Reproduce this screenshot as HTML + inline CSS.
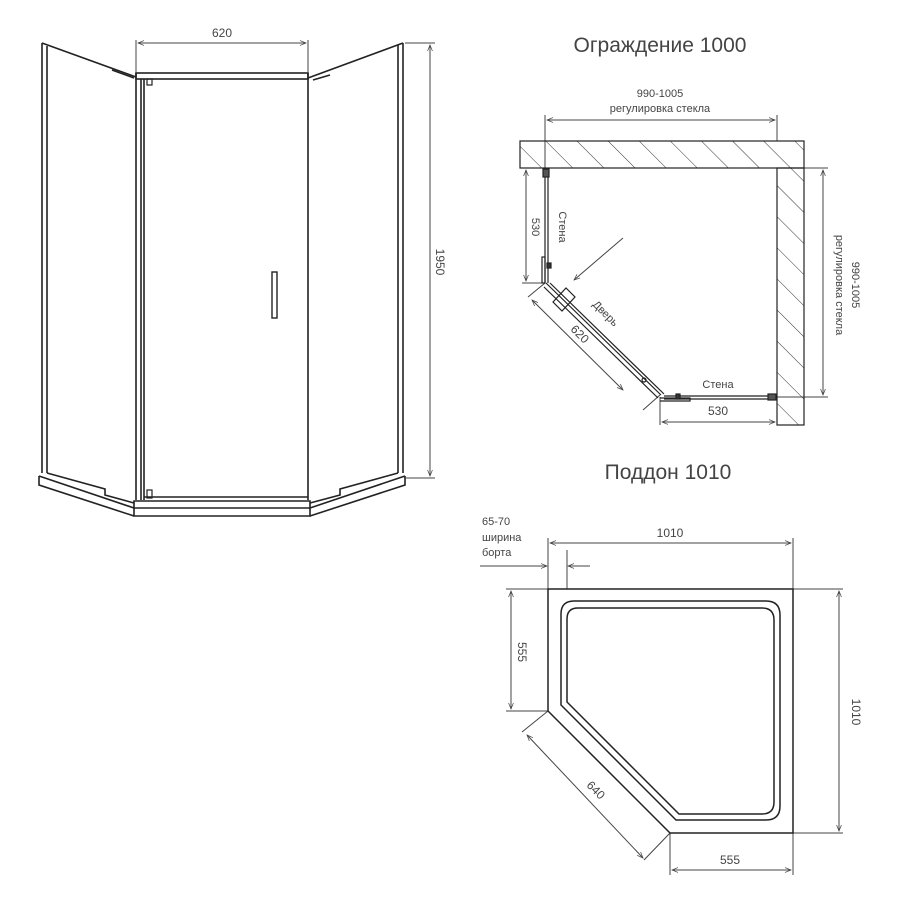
<!DOCTYPE html>
<html><head><meta charset="utf-8"><style>
html,body{margin:0;padding:0;background:#fff}
svg{display:block}
text{font-family:"Liberation Sans",sans-serif;fill:#444}
</style></head><body>
<svg width="900" height="900" viewBox="0 0 900 900" xmlns="http://www.w3.org/2000/svg">
<defs>
<marker id="a" viewBox="0 0 10 10" refX="10" refY="5" markerWidth="8" markerHeight="6" orient="auto-start-reverse"><path d="M0,1 L10,5 L0,9" fill="none" stroke="#444" stroke-width="1.2"/></marker>
<pattern id="h" patternUnits="userSpaceOnUse" width="22" height="22" patternTransform="rotate(-45)"><line x1="0" y1="0" x2="0" y2="22" stroke="#333" stroke-width="1"/></pattern>
</defs>
<g fill="none" stroke="#222" stroke-width="1.6">
<path d="M42,43 L42,473 M47,46 L47,473 M42,43 L136,77"/>
<path d="M112,70 L134,78"/>
<rect x="136" y="73" width="172" height="6"/>
<path d="M136,73 L136,500 M141,79 L141,500 M144,79 L144,500 M308,73 L308,500"/>
<rect x="147" y="79" width="5" height="6" stroke-width="1.2"/>
<rect x="147" y="490" width="5" height="8" stroke-width="1.2"/>
<path d="M144,497 L308,497"/>
<rect x="272" y="272" width="5" height="46" stroke-width="1.4"/>
<path d="M398,45 L398,473 M403,43 L403,473 M308,78 L403,43"/>
<path d="M313,80 L330,75"/>
<path d="M134,501 L310,501 L310,516 L134,516 Z"/>
<path d="M134,508 L310,508"/>
<path d="M39,476 L39,485 L134,516 M39,476 L134,508 M47,473 L105,489 L105,495 L134,503"/>
<path d="M405,476 L405,485 L310,516 M405,476 L310,508 M398,473 L340,489 L340,495 L310,503"/>
</g>
<g stroke="#444" stroke-width="1" fill="none">
<path d="M136,40 L136,73 M308,40 L308,73"/>
<line x1="138" y1="43" x2="306" y2="43" marker-start="url(#a)" marker-end="url(#a)"/>
<path d="M405,43 L435,43 M405,478 L435,478"/>
<line x1="430" y1="45" x2="430" y2="476" marker-start="url(#a)" marker-end="url(#a)"/>
</g>
<text x="222" y="37" font-size="12" text-anchor="middle">620</text>
<text transform="translate(436,262) rotate(90)" font-size="12" text-anchor="middle">1950</text>

<text x="660" y="52" font-size="21" text-anchor="middle">Ограждение 1000</text>
<text x="660" y="97" font-size="11" text-anchor="middle">990-1005</text>
<text x="660" y="112" font-size="11" text-anchor="middle">регулировка стекла</text>
<g stroke="#444" stroke-width="1" fill="none">
<path d="M545,115 L545,168 M777,115 L777,141"/>
<line x1="547" y1="120" x2="775" y2="120" marker-start="url(#a)" marker-end="url(#a)"/>
<path d="M804,168 L828,168 M777,397 L828,397"/>
<line x1="823" y1="170" x2="823" y2="395" marker-start="url(#a)" marker-end="url(#a)"/>
<path d="M522,168 L545,168 M522,283 L545,283"/>
<line x1="526" y1="170" x2="526" y2="281" marker-start="url(#a)" marker-end="url(#a)"/>
<path d="M660,397 L660,425 M777,397 L777,425"/>
<line x1="662" y1="422" x2="775" y2="422" marker-start="url(#a)" marker-end="url(#a)"/>
<path d="M545,283 L528,297 M660,395 L643,410"/>
<line x1="532" y1="300" x2="623" y2="390" marker-start="url(#a)" marker-end="url(#a)"/>
<line x1="623" y1="238" x2="574" y2="280" marker-end="url(#a)"/>
</g>
<rect x="520" y="141" width="284" height="27" fill="url(#h)" stroke="#222" stroke-width="1.2"/>
<rect x="777" y="168" width="27" height="257" fill="url(#h)" stroke="#222" stroke-width="1.2"/>
<g fill="none" stroke="#222" stroke-width="1.2">
<path d="M545,169 L545,283 M548,169 L548,283"/>
<rect x="543" y="169" width="6" height="8" fill="#555"/>
<rect x="542" y="257" width="3" height="26"/>
<rect x="547" y="263" width="4" height="5" fill="#333"/>
<path d="M546,283 L661,395 M550,283 L664,394 M544,287 L658,398"/>
<path d="M553,302 L566,288 L575,297 L562,311 Z"/>
<path d="M660,398 L690,398 L690,401 L660,401"/>
<path d="M664,396 L777,396 M664,399 L777,399"/>
<rect x="676" y="394" width="4" height="5" fill="#333"/>
<rect x="768" y="394" width="8" height="6" fill="#555"/>
<circle cx="644" cy="380" r="2"/>
</g>
<text transform="translate(532,227) rotate(90)" font-size="11" text-anchor="middle">530</text>
<text transform="translate(559,227) rotate(90)" font-size="11" text-anchor="middle">Стена</text>
<text transform="translate(577,337) rotate(45)" font-size="12" text-anchor="middle">620</text>
<text transform="translate(603,316) rotate(45)" font-size="11" text-anchor="middle">Дверь</text>
<text x="718" y="388" font-size="11" text-anchor="middle">Стена</text>
<text x="718" y="415" font-size="12" text-anchor="middle">530</text>
<text transform="translate(852,285) rotate(90)" font-size="11" text-anchor="middle">990-1005</text>
<text transform="translate(836,285) rotate(90)" font-size="11" text-anchor="middle">регулировка стекла</text>

<text x="668" y="479" font-size="21" text-anchor="middle">Поддон 1010</text>
<text x="670" y="537" font-size="12" text-anchor="middle">1010</text>
<text x="482" y="525" font-size="11">65-70</text>
<text x="482" y="541" font-size="11">ширина</text>
<text x="482" y="556" font-size="11">борта</text>
<g stroke="#444" stroke-width="1" fill="none">
<path d="M548,538 L548,589 M793,538 L793,589"/>
<line x1="550" y1="543" x2="791" y2="543" marker-start="url(#a)" marker-end="url(#a)"/>
<path d="M567,550 L567,589 M480,566 L546,566 M569,566 L590,566"/>
<line x1="530" y1="566" x2="547" y2="566" marker-end="url(#a)"/>
<line x1="590" y1="566" x2="568" y2="566" marker-end="url(#a)"/>
<path d="M793,589 L843,589 M793,833 L843,833"/>
<line x1="839" y1="591" x2="839" y2="831" marker-start="url(#a)" marker-end="url(#a)"/>
<path d="M506,589 L548,589 M506,711 L548,711"/>
<line x1="511" y1="591" x2="511" y2="709" marker-start="url(#a)" marker-end="url(#a)"/>
<path d="M670,833 L670,875 M793,833 L793,875"/>
<line x1="672" y1="870" x2="791" y2="870" marker-start="url(#a)" marker-end="url(#a)"/>
<path d="M548,711 L522,732 M670,833 L644,860"/>
<line x1="527" y1="735" x2="643" y2="858" marker-start="url(#a)" marker-end="url(#a)"/>
</g>
<g fill="none" stroke="#222" stroke-width="1.5">
<path d="M548,589 L793,589 L793,833 L670,833 L548,711 Z"/>
<path d="M574,601 L766,601 Q780,601 780,615 L780,806 Q780,820 766,820 L676,820 L561,705 L561,614 Q561,601 574,601 Z"/>
<path d="M578,608 L762,608 Q774,608 774,620 L774,802 Q774,814 762,814 L679,814 L567,702 L567,619 Q567,608 578,608 Z"/>
</g>
<text transform="translate(518,652) rotate(90)" font-size="12" text-anchor="middle">555</text>
<text transform="translate(852,712) rotate(90)" font-size="12" text-anchor="middle">1010</text>
<text transform="translate(593,793) rotate(45)" font-size="12" text-anchor="middle">640</text>
<text x="730" y="864" font-size="12" text-anchor="middle">555</text>
</svg>
</body></html>
